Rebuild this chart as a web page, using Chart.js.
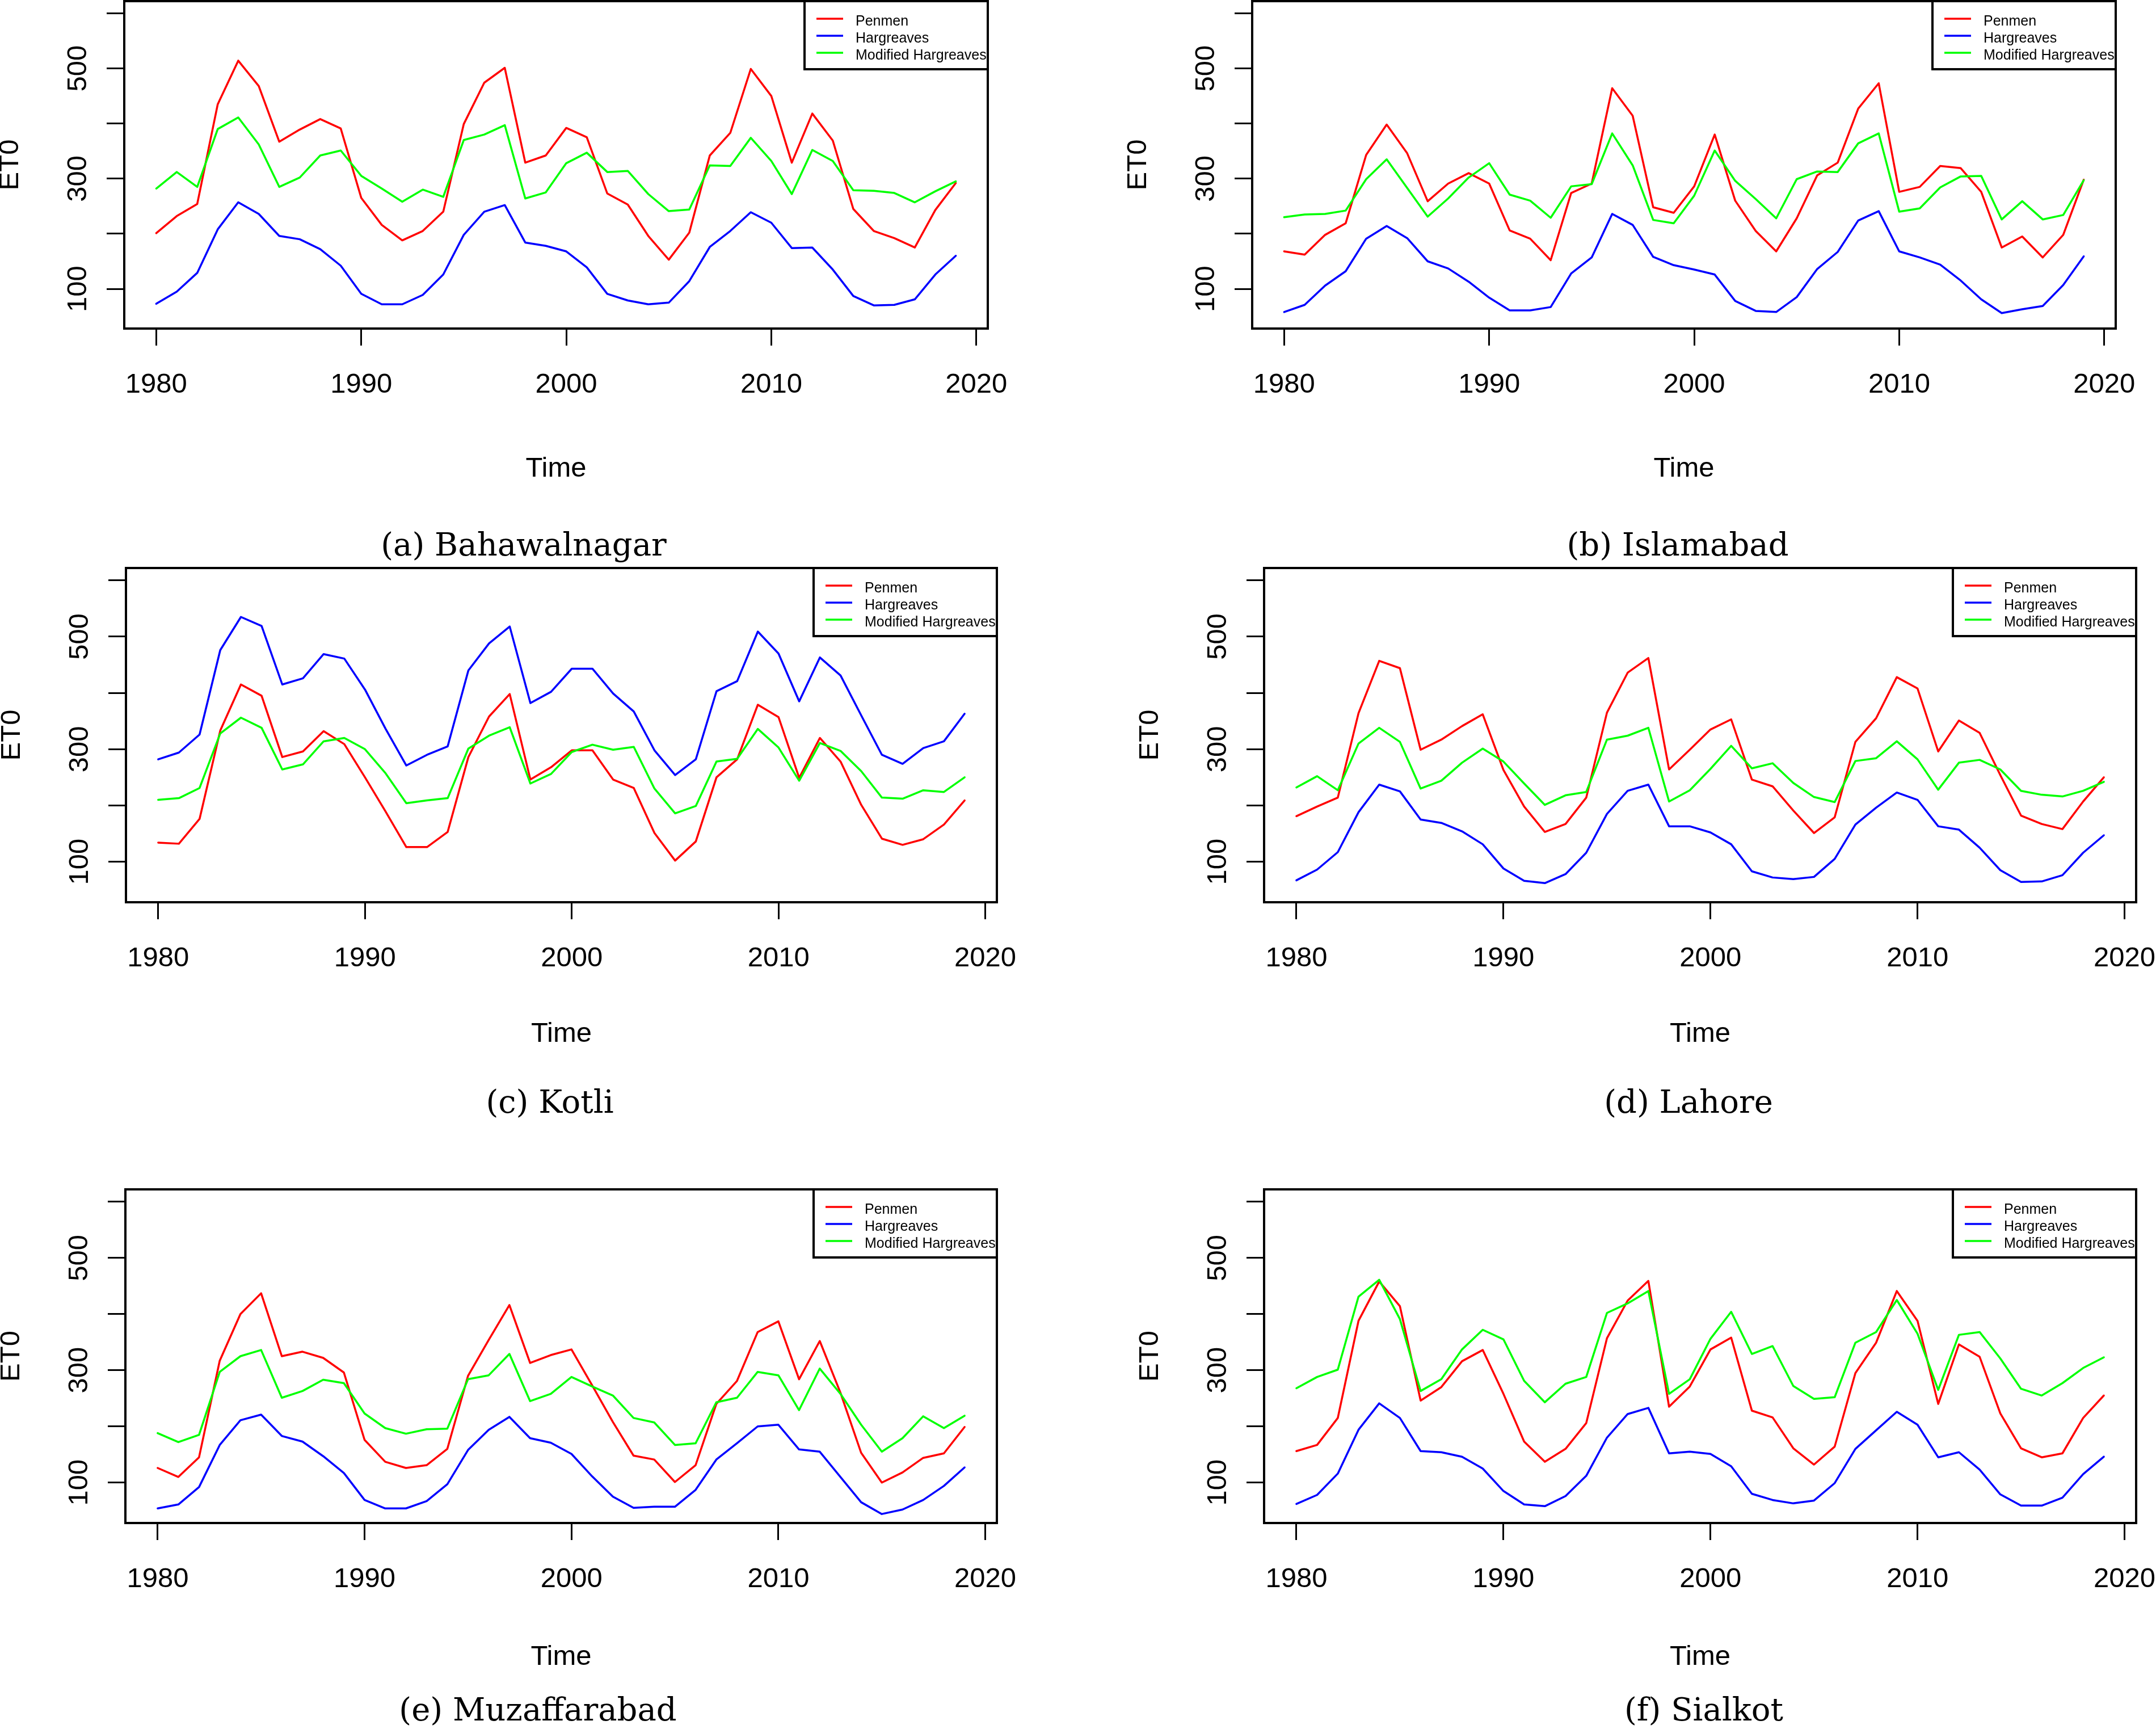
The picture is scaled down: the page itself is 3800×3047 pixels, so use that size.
<!DOCTYPE html>
<html>
<head>
<meta charset="utf-8">
<title>ET0 by station, 1980-2019</title>
<script src="https://cdn.jsdelivr.net/npm/chart.js@4.4.1/dist/chart.umd.min.js"></script>
<style>
  html, body { margin: 0; padding: 0; background: #fff; }
  .page { position: relative; width: 3800px; height: 3047px; overflow: hidden; background: #fff; }
  .page canvas { position: absolute; }
  .caption {
    position: absolute;
    width: 900px;
    text-align: center;
    font-family: "DejaVu Serif", serif;
    font-size: 56px;
    line-height: 70px;
    color: #000;
    white-space: nowrap;
  }
</style>
</head>
<body>
<div class="page">
  <canvas id="bahawalnagar-graph"></canvas>
  <canvas id="islamabad-graph"></canvas>
  <canvas id="kotli-graph"></canvas>
  <canvas id="lahore-graph"></canvas>
  <canvas id="muzaffarabad-graph"></canvas>
  <canvas id="sialkot-graph"></canvas>

  <div class="caption" style="left:473px; top:925px;">(a) Bahawalnagar</div>
  <div class="caption" style="left:2507px; top:925px;">(b) Islamabad</div>
  <div class="caption" style="left:519px; top:1907px;">(c) Kotli</div>
  <div class="caption" style="left:2526px; top:1907px;">(d) Lahore</div>
  <div class="caption" style="left:498px; top:2978px;">(e) Muzaffarabad</div>
  <div class="caption" style="left:2553px; top:2978px;">(f) Sialkot</div>
</div>

<script>
// Shared axes

const years = [1980, 1981, 1982, 1983, 1984, 1985, 1986, 1987, 1988, 1989,
  1990, 1991, 1992, 1993, 1994, 1995, 1996, 1997, 1998, 1999,
  2000, 2001, 2002, 2003, 2004, 2005, 2006, 2007, 2008, 2009,
  2010, 2011, 2012, 2013, 2014, 2015, 2016, 2017, 2018, 2019];
const xTicks = [1980, 1990, 2000, 2010, 2020];
const yTicks = [100, 200, 300, 400, 500, 600];
const yLabelled = [100, 300, 500];
const methodNames = ['Penmen', 'Hargreaves', 'Modified Hargreaves'];

// (a) Bahawalnagar
const bahawalnagarPenmen = [201, 232, 254, 435, 514, 468, 367, 389, 408, 391, 265, 216, 188, 205, 240, 399, 474, 501, 329, 342,
  392, 375, 273, 253, 196, 153, 202, 342, 383, 499, 450, 329, 418, 369, 245, 205, 192, 175, 243, 292];
const bahawalnagarHargreaves = [73, 95, 129, 208, 257, 236, 196, 190, 172, 142, 91, 72, 72, 89, 126, 198, 240, 252, 184, 178,
  168, 139, 91, 79, 72, 75, 114, 176, 205, 239, 220, 174, 175, 135, 87, 70, 71, 81, 126, 160];
const bahawalnagarModified = [282, 312, 285, 390, 411, 362, 285, 302, 342, 351, 305, 282, 258, 280, 267, 370, 380, 397, 264, 275,
  328, 347, 312, 314, 272, 241, 244, 324, 323, 374, 332, 272, 352, 332, 279, 278, 274, 257, 277, 295];

// (b) Islamabad
const islamabadPenmen = [168, 162, 198, 219, 343, 398, 346, 259, 291, 310, 291, 206, 191, 152, 274, 291, 464, 414, 248, 238,
  286, 380, 260, 205, 168, 228, 306, 329, 427, 473, 276, 285, 323, 319, 276, 175, 195, 157, 198, 298];
const islamabadHargreaves = [58, 71, 106, 132, 191, 214, 192, 150, 137, 113, 84, 61, 61, 67, 128, 157, 236, 216, 158, 143,
  135, 126, 78, 60, 58, 85, 136, 167, 224, 241, 168, 157, 144, 115, 81, 56, 63, 69, 107, 159];
const islamabadModified = [230, 235, 236, 242, 299, 335, 283, 231, 264, 302, 328, 271, 260, 229, 286, 290, 382, 324, 225, 219,
  269, 351, 296, 263, 228, 299, 313, 312, 364, 382, 240, 246, 284, 304, 305, 226, 259, 226, 234, 297];

// (c) Kotli
const kotliPenmen = [134, 132, 176, 333, 415, 395, 286, 296, 332, 309, 250, 189, 126, 126, 153, 286, 358, 398, 246, 268,
  298, 298, 246, 231, 151, 102, 136, 250, 282, 379, 357, 249, 320, 278, 201, 141, 130, 140, 166, 209];
const kotliHargreaves = [282, 294, 326, 476, 535, 519, 415, 426, 469, 461, 406, 336, 271, 290, 305, 440, 488, 518, 382, 402,
  443, 443, 399, 367, 298, 254, 282, 403, 421, 509, 470, 385, 463, 431, 360, 290, 274, 302, 314, 363];
const kotliModified = [210, 213, 231, 328, 356, 338, 264, 273, 314, 320, 300, 257, 204, 209, 213, 301, 324, 339, 239, 256,
  295, 308, 299, 304, 230, 186, 199, 278, 283, 336, 303, 244, 311, 297, 261, 214, 212, 227, 224, 250];

// (d) Lahore
const lahorePenmen = [181, 198, 214, 364, 457, 444, 299, 317, 341, 362, 263, 198, 153, 167, 214, 365, 436, 462, 264, 299,
  335, 353, 246, 234, 191, 151, 179, 313, 355, 428, 408, 296, 351, 329, 254, 182, 167, 158, 207, 250];
const lahoreHargreaves = [67, 86, 117, 188, 237, 225, 175, 169, 154, 131, 88, 66, 62, 78, 116, 185, 226, 237, 163, 163,
  152, 131, 83, 72, 69, 73, 105, 166, 196, 223, 210, 163, 157, 125, 85, 64, 65, 76, 116, 147];
const lahoreModified = [232, 252, 227, 310, 338, 313, 230, 244, 276, 301, 278, 239, 201, 218, 224, 317, 324, 338, 207, 227,
  265, 306, 266, 275, 240, 215, 206, 279, 284, 314, 282, 228, 276, 281, 264, 226, 219, 216, 226, 242];

// (e) Muzaffarabad
const muzaffarabadPenmen = [126, 110, 145, 317, 400, 437, 325, 333, 322, 296, 176, 137, 126, 131, 160, 290, 354, 416, 313, 327,
  337, 273, 208, 148, 141, 101, 131, 240, 281, 368, 387, 284, 352, 260, 153, 100, 118, 144, 152, 199];
const muzaffarabadHargreaves = [54, 61, 92, 167, 211, 221, 183, 173, 147, 117, 69, 54, 54, 67, 97, 158, 194, 217, 179, 171,
  151, 111, 75, 55, 57, 57, 87, 141, 170, 200, 203, 159, 155, 110, 65, 44, 52, 69, 94, 127];
const muzaffarabadModified = [188, 172, 185, 297, 325, 336, 251, 263, 283, 277, 223, 197, 187, 195, 196, 284, 291, 329, 245, 258,
  288, 271, 255, 215, 207, 167, 170, 243, 251, 297, 291, 229, 303, 258, 203, 155, 179, 218, 197, 219];

// (f) Sialkot
const sialkotPenmen = [156, 167, 215, 388, 458, 414, 246, 270, 316, 336, 258, 173, 137, 160, 206, 357, 424, 459, 235, 271,
  337, 358, 228, 216, 161, 132, 164, 295, 349, 441, 388, 240, 346, 324, 223, 161, 145, 152, 215, 255];
const sialkotHargreaves = [62, 78, 116, 194, 241, 215, 156, 154, 146, 125, 85, 61, 58, 76, 112, 180, 222, 233, 152, 155,
  151, 129, 80, 69, 63, 68, 99, 160, 193, 226, 203, 145, 154, 123, 79, 59, 59, 73, 115, 146];
const sialkotModified = [268, 288, 301, 431, 461, 391, 263, 284, 337, 372, 355, 281, 243, 276, 288, 402, 419, 441, 258, 284,
  356, 404, 329, 343, 272, 249, 252, 349, 368, 425, 365, 265, 363, 368, 321, 267, 255, 277, 304, 323];

// Look

const methodColors = ['#ff0000', '#0000ff', '#00ff00'];
const fontFamily = '"Liberation Sans", Arial, Helvetica, sans-serif';
const axisFontSize = 49;
const yAxisW = 230;   // room left of the plot box for tick labels + "ET0"
const padTop = 10;
const padRight = 60;

Chart.defaults.font.family = fontFamily;
Chart.defaults.color = '#000';

// R style frame round the plot area plus the boxed legend in the top right corner
const rFrame = {
  id: 'rFrame',
  afterDatasetsDraw(chart) {
    const { ctx, chartArea: a } = chart;
    const legendW = 323;
    const legendH = 120;
    const lx = a.right - legendW;
    const ly = a.top;

    ctx.save();
    ctx.fillStyle = '#fff';
    ctx.fillRect(lx, ly, legendW, legendH);
    ctx.font = '25px ' + fontFamily;
    ctx.textAlign = 'left';
    ctx.textBaseline = 'middle';
    chart.data.datasets.forEach((ds, i) => {
      const y = ly + 31 + 30 * i;
      ctx.strokeStyle = ds.borderColor;
      ctx.lineWidth = 3.5;
      ctx.beginPath();
      ctx.moveTo(lx + 21, y);
      ctx.lineTo(lx + 68, y);
      ctx.stroke();
      ctx.fillStyle = '#000';
      ctx.fillText(ds.label, lx + 90, y + 5);
    });
    ctx.strokeStyle = '#000';
    ctx.lineWidth = 4;
    ctx.strokeRect(lx, ly, legendW, legendH);
    ctx.strokeRect(a.left, a.top, a.right - a.left, a.bottom - a.top);
    ctx.restore();
  }
};

function makeChart(id, panel, series) {
  const canvas = document.getElementById(id);
  canvas.width = panel.boxR - panel.boxL + yAxisW + padRight;
  canvas.height = panel.boxB - panel.boxT + padTop + panel.xAxisH;
  canvas.style.left = (panel.boxL - yAxisW) + 'px';
  canvas.style.top = (panel.boxT - padTop) + 'px';

  const datasets = series.map((values, i) => ({
    label: methodNames[i],
    data: values,
    borderColor: methodColors[i],
    backgroundColor: methodColors[i],
    borderWidth: 3.5,
    borderJoinStyle: 'round',
    borderCapStyle: 'round',
    pointRadius: 0,
    tension: 0,
    fill: false,
    order: 2 - i
  }));

  return new Chart(canvas, {
    type: 'line',
    data: { labels: years, datasets: datasets },
    options: {
      responsive: false,
      animation: false,
      devicePixelRatio: 1,
      layout: { padding: { left: 0, top: padTop, right: padRight, bottom: 0 } },
      plugins: {
        legend: { display: false },
        tooltip: { enabled: false }
      },
      scales: {
        x: {
          type: 'linear',
          min: 1978.44,
          max: 2020.56,
          afterBuildTicks: (scale) => { scale.ticks = xTicks.map(v => ({ value: v })); },
          afterFit: (scale) => {
            scale.height = panel.xAxisH;
            scale.paddingLeft = 0;
            scale.paddingRight = 0;
          },
          border: { display: false },
          grid: { drawOnChartArea: false, drawTicks: true, tickLength: 30, tickWidth: 3, tickColor: '#000' },
          ticks: {
            autoSkip: false, minRotation: 0, maxRotation: 0, padding: 40,
            color: '#000', font: { size: axisFontSize },
            callback: (v) => String(v)
          },
          title: { display: true, text: 'Time', color: '#000', padding: 0, font: { size: axisFontSize } }
        },
        y: {
          min: 28,
          max: 622,
          afterBuildTicks: (scale) => { scale.ticks = yTicks.map(v => ({ value: v })); },
          afterFit: (scale) => {
            scale.width = yAxisW;
            scale.paddingTop = 0;
            scale.paddingBottom = 0;
          },
          border: { display: false },
          grid: { drawOnChartArea: false, drawTicks: true, tickLength: 31, tickWidth: 3, tickColor: '#000' },
          ticks: {
            autoSkip: false, minRotation: 90, maxRotation: 90, crossAlign: 'center', padding: 9,
            color: '#000', font: { size: axisFontSize },
            callback: (v) => (yLabelled.includes(v) ? String(v) : '')
          },
          title: { display: true, text: 'ET0', color: '#000', padding: 0, font: { size: axisFontSize } }
        }
      }
    },
    plugins: [rFrame]
  });
}

// Panels (plot box edges in page pixels)

const bahawalnagarChart = makeChart('bahawalnagar-graph',
  { boxL: 219, boxR: 1741, boxT: 2, boxB: 579, xAxisH: 277 },
  [bahawalnagarPenmen, bahawalnagarHargreaves, bahawalnagarModified]);

const islamabadChart = makeChart('islamabad-graph',
  { boxL: 2207, boxR: 3729, boxT: 2, boxB: 579, xAxisH: 277 },
  [islamabadPenmen, islamabadHargreaves, islamabadModified]);

const kotliChart = makeChart('kotli-graph',
  { boxL: 222, boxR: 1757, boxT: 1001, boxB: 1590, xAxisH: 262 },
  [kotliPenmen, kotliHargreaves, kotliModified]);

const lahoreChart = makeChart('lahore-graph',
  { boxL: 2228, boxR: 3765, boxT: 1001, boxB: 1590, xAxisH: 262 },
  [lahorePenmen, lahoreHargreaves, lahoreModified]);

const muzaffarabadChart = makeChart('muzaffarabad-graph',
  { boxL: 221, boxR: 1757, boxT: 2096, boxB: 2684, xAxisH: 266 },
  [muzaffarabadPenmen, muzaffarabadHargreaves, muzaffarabadModified]);

const sialkotChart = makeChart('sialkot-graph',
  { boxL: 2228, boxR: 3765, boxT: 2096, boxB: 2684, xAxisH: 266 },
  [sialkotPenmen, sialkotHargreaves, sialkotModified]);
</script>
</body>
</html>
